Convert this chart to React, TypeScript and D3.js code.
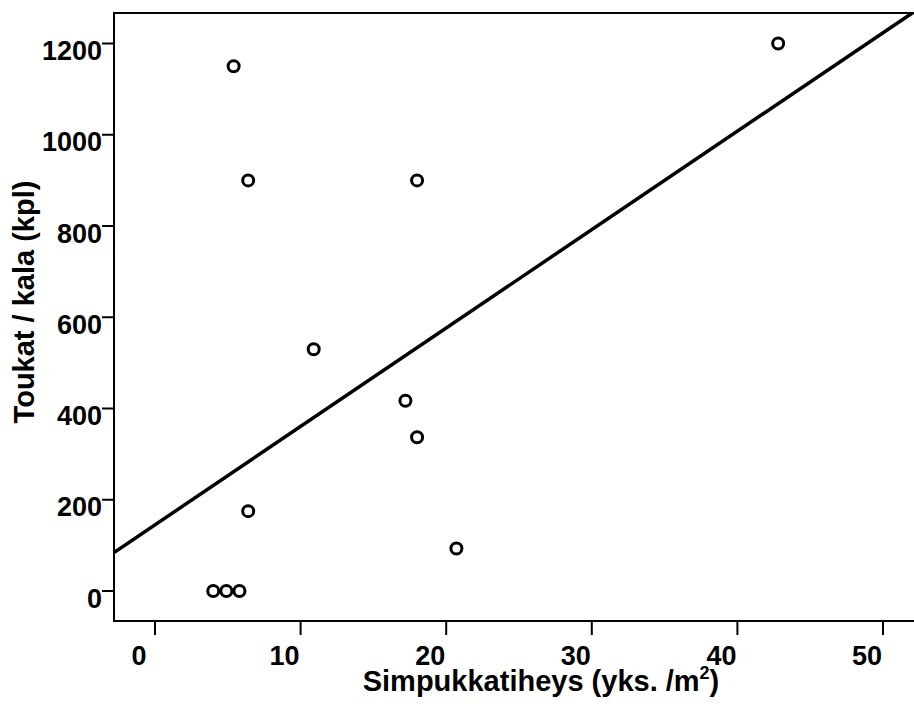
import React, { useEffect, useRef } from 'react';
import * as d3 from 'd3';

// Simpukkatiheys (yks./m2) vs. toukat / kala (kpl)
const density = [4.0, 4.9, 5.8, 6.4, 6.4, 5.4, 10.9, 17.2, 18.0, 18.0, 20.7, 42.8];
const larvae = [0, 0, 0, 175, 900, 1150, 530, 417, 337, 900, 93, 1200];

const xTicks = [0, 10, 20, 30, 40, 50];
const yTicks = [0, 200, 400, 600, 800, 1000, 1200];

// sovitettu suora
const fitIntercept = 145;
const fitSlope = 21.57;

const width = 914;
const height = 706;
const font = '"Liberation Sans", Arial, sans-serif';

export default function App() {
  const svgRef = useRef<SVGSVGElement>(null);

  useEffect(() => {
    const svg = d3.select(svgRef.current);
    svg.selectAll('*').remove();

    const left = 114;
    const top = 13;
    const bottom = 621;
    const right = 930;

    const x = d3.scaleLinear().domain([0, 50]).range([155, 883]);
    const y = d3.scaleLinear().domain([0, 1200]).range([591, 43.5]);

    svg.append('rect')
      .attr('width', width)
      .attr('height', height)
      .attr('fill', '#fff');

    const clip = svg.append('clipPath').attr('id', 'plot-clip');
    clip.append('rect')
      .attr('x', left)
      .attr('y', top)
      .attr('width', right - left)
      .attr('height', bottom - top);

    // kehys
    svg.append('rect')
      .attr('x', left)
      .attr('y', top)
      .attr('width', right - left)
      .attr('height', bottom - top)
      .attr('fill', 'none')
      .attr('stroke', '#000')
      .attr('stroke-width', 2);

    // x-akseli
    const xAxis = svg.append('g');
    xAxis.selectAll('line')
      .data(xTicks)
      .enter()
      .append('line')
      .attr('x1', d => x(d))
      .attr('x2', d => x(d))
      .attr('y1', bottom)
      .attr('y2', bottom + 14)
      .attr('stroke', '#000')
      .attr('stroke-width', 2);
    xAxis.selectAll('text')
      .data(xTicks)
      .enter()
      .append('text')
      .attr('x', d => x(d) - 16)
      .attr('y', 665)
      .attr('text-anchor', 'middle')
      .attr('font-family', font)
      .attr('font-weight', 'bold')
      .attr('font-size', 27)
      .text(d => d);

    // y-akseli
    const yAxis = svg.append('g');
    yAxis.selectAll('line')
      .data(yTicks)
      .enter()
      .append('line')
      .attr('x1', left - 12)
      .attr('x2', left)
      .attr('y1', d => y(d))
      .attr('y2', d => y(d))
      .attr('stroke', '#000')
      .attr('stroke-width', 2);
    yAxis.selectAll('text')
      .data(yTicks)
      .enter()
      .append('text')
      .attr('x', 102)
      .attr('y', d => y(d) + 16.5)
      .attr('text-anchor', 'end')
      .attr('font-family', font)
      .attr('font-weight', 'bold')
      .attr('font-size', 27)
      .text(d => d);

    // akselien otsikot
    const xLabel = svg.append('text')
      .attr('x', 541)
      .attr('y', 691)
      .attr('text-anchor', 'middle')
      .attr('font-family', font)
      .attr('font-weight', 'bold')
      .attr('font-size', 29);
    xLabel.append('tspan').text('Simpukkatiheys (yks. /m');
    xLabel.append('tspan').attr('font-size', 18).attr('dy', -12).text('2');
    xLabel.append('tspan').attr('dy', 12).text(')');

    svg.append('text')
      .attr('transform', 'translate(34,302) rotate(-90)')
      .attr('text-anchor', 'middle')
      .attr('font-family', font)
      .attr('font-weight', 'bold')
      .attr('font-size', 29)
      .text('Toukat / kala (kpl)');

    const plot = svg.append('g').attr('clip-path', 'url(#plot-clip)');

    // regressiosuora
    const [x0, x1] = [x.invert(left), x.invert(right)];
    plot.append('line')
      .attr('x1', x(x0))
      .attr('y1', y(fitIntercept + fitSlope * x0))
      .attr('x2', x(x1))
      .attr('y2', y(fitIntercept + fitSlope * x1))
      .attr('stroke', '#000')
      .attr('stroke-width', 3.5);

    // havainnot
    plot.selectAll('circle')
      .data(density.map((d, i) => ({ x: d, y: larvae[i] })))
      .enter()
      .append('circle')
      .attr('cx', d => x(d.x))
      .attr('cy', d => y(d.y))
      .attr('r', 5.5)
      .attr('fill', 'none')
      .attr('stroke', '#000')
      .attr('stroke-width', 3);
  }, []);

  return (
    <svg
      ref={svgRef}
      width={width}
      height={height}
      style={{ position: 'absolute', left: 0, top: 0, display: 'block' }}
    />
  );
}
